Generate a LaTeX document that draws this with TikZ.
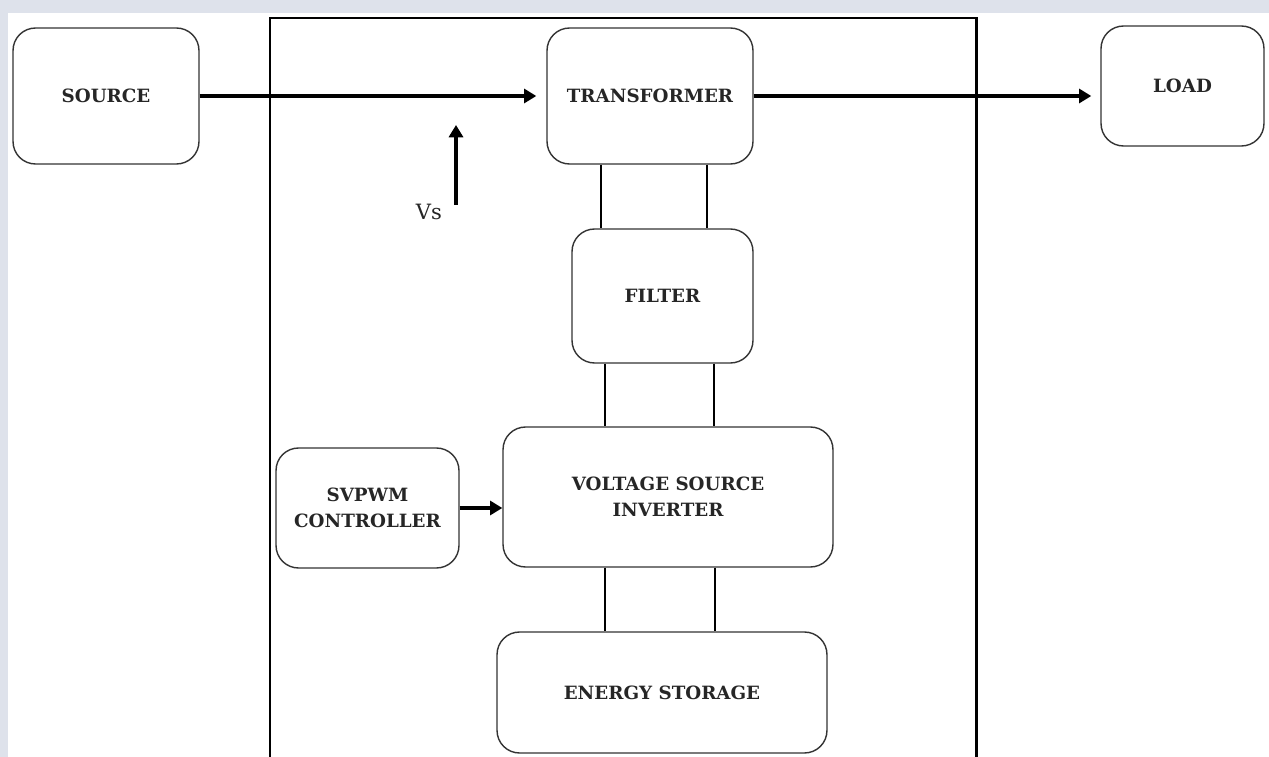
\documentclass[tikz,border=0pt]{standalone}
\usepackage{fontspec}
\setmainfont{DejaVu Serif}
\usetikzlibrary{arrows.meta}
\definecolor{edgegray}{RGB}{222,226,235}
\tikzset{
  block/.style={draw=black!80, line width=0.8pt, rounded corners=0.45cm, align=center, inner sep=0pt,
    text=black!85, font=\bfseries\fontsize{10.4}{15}\selectfont},
  link/.style={line width=1.4pt},
  flow/.style={line width=2pt, -{Triangle[length=7pt,width=8pt]}}
}
\begin{document}
\begin{tikzpicture}[x=0.02cm,y=-0.02cm]
\useasboundingbox (0,0) rectangle (1269,757);
\clip (0,0) rectangle (1269,757);
%BACKGROUND
  \fill[edgegray] (0,0) rectangle (1269,757);
  \fill[white] (8,13) rectangle (1269,757);
  %FRAME
  \draw[line width=1.7pt] (270,770) -- (270,18) -- (976,18) -- (976,770);

%BLOCKS
  \node[block, minimum width=3.72cm, minimum height=2.72cm] (source) at (106,96) {SOURCE};
  \node[block, minimum width=4.12cm, minimum height=2.72cm] (transformer) at (650,96) {TRANSFORMER};
  \node[block, minimum width=3.26cm, minimum height=2.4cm] (load) at (1182.5,86) {LOAD};
  \node[block, minimum width=3.62cm, minimum height=2.68cm] (filter) at (662.5,296) {FILTER};
  \node[block, minimum width=6.6cm, minimum height=2.8cm] (vsi) at (668,497) {VOLTAGE SOURCE\\INVERTER};
  \node[block, minimum width=3.66cm, minimum height=2.4cm] (svpwm) at (367.5,508) {SVPWM\\CONTROLLER};
  \node[block, minimum width=6.6cm, minimum height=2.42cm] (storage) at (662,692.5) {ENERGY STORAGE};

%ARROWS
  \draw[flow, shorten >=0.2cm] (source.east) -- (transformer.west |- source.east);
  \draw[flow, shorten >=0.18cm] (transformer.east) -- (load.west |- transformer.east);
  \draw[flow] (svpwm.east) -- (vsi.west |- svpwm.east);
  \coordinate (vsbot) at (456,205);
  \coordinate (vstop) at (456,125);
  \draw[flow] (vsbot) -- (vstop);
  \node[font=\fontsize{12}{14}\selectfont, text=black!85] (vs) at (429,212) {Vs};

%LINKS
  \draw[link] ([xshift=-0.98cm]transformer.south) -- ([xshift=-0.98cm]transformer.south |- filter.north);
  \draw[link] ([xshift=1.14cm]transformer.south) -- ([xshift=1.14cm]transformer.south |- filter.north);
  \draw[link] ([xshift=-1.15cm]filter.south) -- ([xshift=-1.15cm]filter.south |- vsi.north);
  \draw[link] ([xshift=1.03cm]filter.south) -- ([xshift=1.03cm]filter.south |- vsi.north);
  \draw[link] ([xshift=-1.26cm]vsi.south) -- ([xshift=-1.26cm]vsi.south |- storage.north);
  \draw[link] ([xshift=0.94cm]vsi.south) -- ([xshift=0.94cm]vsi.south |- storage.north);
\end{tikzpicture}
\end{document}
